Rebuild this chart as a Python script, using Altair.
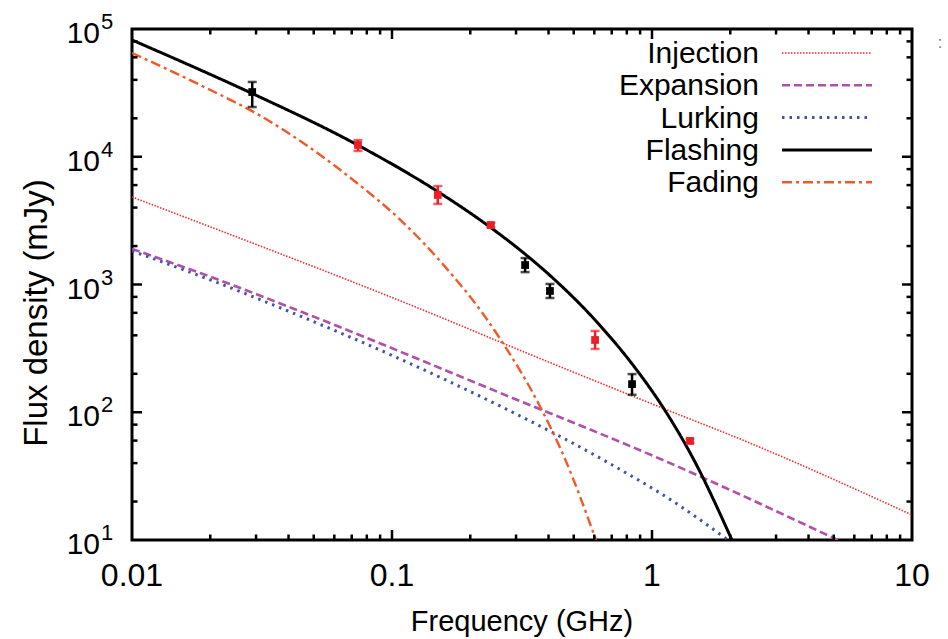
import altair as alt
import pandas as pd

# ---------------- data ----------------
inj_f = [0.01, 0.0183, 0.163, 0.260, 1.07, 2.38, 10.0]
inj_s = [4840, 3030, 528, 355, 110, 57.4, 15.7]

exp_f = [0.01, 0.0183, 0.0515, 0.260, 1.10, 5.19]
exp_s = [1900, 1230, 547, 142, 42.3, 10]

lurk_f = [0.01, 0.0183, 0.0416, 0.1074, 0.260, 0.631, 1.28, 1.96]
lurk_s = [1830, 1165, 598, 261, 112, 43.8, 18.5, 10]

flash_f = [0.01, 0.0183, 0.0289, 0.074, 0.150, 0.238, 0.331, 0.405, 0.631, 0.845, 1.10, 1.44, 2.03]
flash_s = [82000, 47840, 31380, 12310, 5336, 2819, 1678, 1178, 478, 234, 110, 43.4, 10]

fade_f = [0.01, 0.0183, 0.0331, 0.0733, 0.1074, 0.1627, 0.224, 0.260, 0.371, 0.463, 0.609]
fade_s = [64900, 36440, 19460, 6230, 3221, 1325, 589, 378, 111, 43.0, 10]

pt_f = [0.029, 0.074, 0.150, 0.240, 0.325, 0.405, 0.604, 0.838, 1.40]
pt_s = [32100, 12360, 5020, 2920, 1420, 890, 368, 166, 59.6]
pt_lo = [24500, 11100, 4270, 2800, 1250, 784, 313, 137, 57.5]
pt_hi = [38500, 13500, 5900, 3040, 1610, 1010, 433, 199, 62.0]
pt_grp = ["black", "red", "red", "red", "black", "black", "red", "black", "red"]

series_names = ["Injection", "Expansion", "Lurking", "Flashing", "Fading"]

x_major = [0.01, 0.1, 1, 10]
x_major_labels = ["0.01", "0.1", "1", "10"]
x_minor = [0.02, 0.03, 0.04, 0.05, 0.06, 0.07, 0.08, 0.09,
           0.2, 0.3, 0.4, 0.5, 0.6, 0.7, 0.8, 0.9,
           2, 3, 4, 5, 6, 7, 8, 9]
y_major = [10, 100, 1000, 10000, 100000]
y_exp = ["1", "2", "3", "4", "5"]
y_minor = [20, 40, 60, 80, 200, 400, 600, 800, 2000, 4000, 6000, 8000,
           20000, 40000, 60000, 80000]

# ---------------- styling ----------------
W, H = 780, 511
FONT = "Liberation Sans"
styles = {
    "Injection": dict(color="#EE2A30", dash=[1.5, 1.5], width=1.6),
    "Expansion": dict(color="#B24FA8", dash=[8, 4], width=2.6),
    "Lurking": dict(color="#3F54A8", dash=[2.5, 5], width=3.0),
    "Flashing": dict(color="#000000", dash=[1, 0], width=3.0),
    "Fading": dict(color="#F05A28", dash=[10, 4, 3, 4], width=2.4),
}
PT_RED = "#EB1E28"

xs = alt.Scale(type="log", domain=[0.01, 10])
ys = alt.Scale(type="log", domain=[10, 100000])

curves = {
    "Injection": (inj_f, inj_s),
    "Expansion": (exp_f, exp_s),
    "Lurking": (lurk_f, lurk_s),
    "Flashing": (flash_f, flash_s),
    "Fading": (fade_f, fade_s),
}

layers = []
for name in ["Injection", "Expansion", "Lurking", "Fading", "Flashing"]:
    f, s = curves[name]
    st = styles[name]
    df = pd.DataFrame({"f": f, "s": s})
    layers.append(
        alt.Chart(df).mark_line(
            color=st["color"], strokeDash=st["dash"], strokeWidth=st["width"],
            clip=True, interpolate="monotone"
        ).encode(
            x=alt.X("f:Q", scale=xs, axis=None),
            y=alt.Y("s:Q", scale=ys, axis=None),
        )
    )

pts = pd.DataFrame({"f": pt_f, "s": pt_s, "lo": pt_lo, "hi": pt_hi, "g": pt_grp})
pcolor = alt.Color("g:N", scale=alt.Scale(domain=["black", "red"], range=["#000000", PT_RED]), legend=None)
layers.append(
    alt.Chart(pts).mark_rule(strokeWidth=2.5).encode(
        x=alt.X("f:Q", scale=xs, axis=None),
        y=alt.Y("lo:Q", scale=ys, axis=None), y2="hi:Q", color=pcolor)
)
for fld in ["lo", "hi"]:
    layers.append(
        alt.Chart(pts).mark_tick(orient="horizontal", size=9, thickness=2.5).encode(
            x=alt.X("f:Q", scale=xs, axis=None),
            y=alt.Y(f"{fld}:Q", scale=ys, axis=None), color=pcolor)
    )
layers.append(
    alt.Chart(pts).mark_square(size=60, opacity=1, filled=True).encode(
        x=alt.X("f:Q", scale=xs, axis=None),
        y=alt.Y("s:Q", scale=ys, axis=None), color=pcolor)
)

# ---------------- ticks (inward, mirrored) ----------------
def xticks(vals, length):
    d = pd.DataFrame({"v": vals})
    b = alt.Chart(d).mark_rule(color="black", strokeWidth=2.5).encode(
        x=alt.X("v:Q", scale=xs, axis=None), y=alt.value(H), y2=alt.value(H - length))
    t = alt.Chart(d).mark_rule(color="black", strokeWidth=2.5).encode(
        x=alt.X("v:Q", scale=xs, axis=None), y=alt.value(0), y2=alt.value(length))
    return [b, t]

def yticks(vals, length):
    d = pd.DataFrame({"v": vals})
    l = alt.Chart(d).mark_rule(color="black", strokeWidth=2.5).encode(
        y=alt.Y("v:Q", scale=ys, axis=None), x=alt.value(0), x2=alt.value(length))
    r = alt.Chart(d).mark_rule(color="black", strokeWidth=2.5).encode(
        y=alt.Y("v:Q", scale=ys, axis=None), x=alt.value(W), x2=alt.value(W - length))
    return [l, r]

layers += xticks(x_major[1:-1], 10) + xticks(x_minor, 5.5)
layers += yticks(y_major[1:-1], 10) + yticks(y_minor, 5.5)

# ---------------- tick labels ----------------
xl = pd.DataFrame({"v": x_major, "t": x_major_labels})
layers.append(
    alt.Chart(xl).mark_text(font=FONT, fontSize=32, baseline="alphabetic", align="center", color="black").encode(
        x=alt.X("v:Q", scale=xs, axis=None), y=alt.value(H + 46), text="t:N")
)
yl = pd.DataFrame({"v": y_major, "e": y_exp, "b": ["10"] * len(y_major)})
layers.append(
    alt.Chart(yl).mark_text(font=FONT, fontSize=30, baseline="alphabetic", align="right", dy=14, color="black").encode(
        y=alt.Y("v:Q", scale=ys, axis=None), x=alt.value(-32), text="b:N")
)
layers.append(
    alt.Chart(yl).mark_text(font=FONT, fontSize=22, baseline="alphabetic", align="left", dy=0, color="black").encode(
        y=alt.Y("v:Q", scale=ys, axis=None), x=alt.value(-31), text="e:N")
)

# ---------------- axis titles ----------------
layers.append(
    alt.Chart(pd.DataFrame({"t": ["Frequency (GHz)"]})).mark_text(
        font=FONT, fontSize=29, align="center", baseline="alphabetic", color="black"
    ).encode(x=alt.value(W / 2), y=alt.value(H + 91), text="t:N")
)
layers.append(
    alt.Chart(pd.DataFrame({"t": ["Flux density (mJy)"]})).mark_text(
        font=FONT, fontSize=33, align="center", baseline="middle", angle=270, color="black"
    ).encode(x=alt.value(-95), y=alt.value(284), text="t:N")
)

# ---------------- legend (gnuplot style: label left, sample right) ----------------
for i, name in enumerate(series_names):
    st = styles[name]
    yy = 24 + i * 32.3
    layers.append(
        alt.Chart(pd.DataFrame({"t": [name]})).mark_text(
            font=FONT, fontSize=30, align="right", baseline="middle", color="black"
        ).encode(x=alt.value(627), y=alt.value(yy + 1), text="t:N")
    )
    layers.append(
        alt.Chart(pd.DataFrame({"t": [name]})).mark_rule(
            color=st["color"], strokeDash=st["dash"], strokeWidth=st["width"]
        ).encode(x=alt.value(650), x2=alt.value(740), y=alt.value(yy))
    )

# small stray mark at top right of the reference
layers.append(
    alt.Chart(pd.DataFrame({"t": [":"]})).mark_text(
        font=FONT, fontSize=16, align="center", baseline="middle", color="#5A7CC0"
    ).encode(x=alt.value(808), y=alt.value(14), text="t:N")
)

chart = alt.layer(*layers).properties(
    width=W, height=H,
    autosize=alt.AutoSizeParams(type="none"),
    padding={"left": 132, "top": 29, "right": 36, "bottom": 99},
).configure_view(stroke="black", strokeWidth=3)

chart.save("out.html", embed_options={"renderer": "svg", "actions": False})
